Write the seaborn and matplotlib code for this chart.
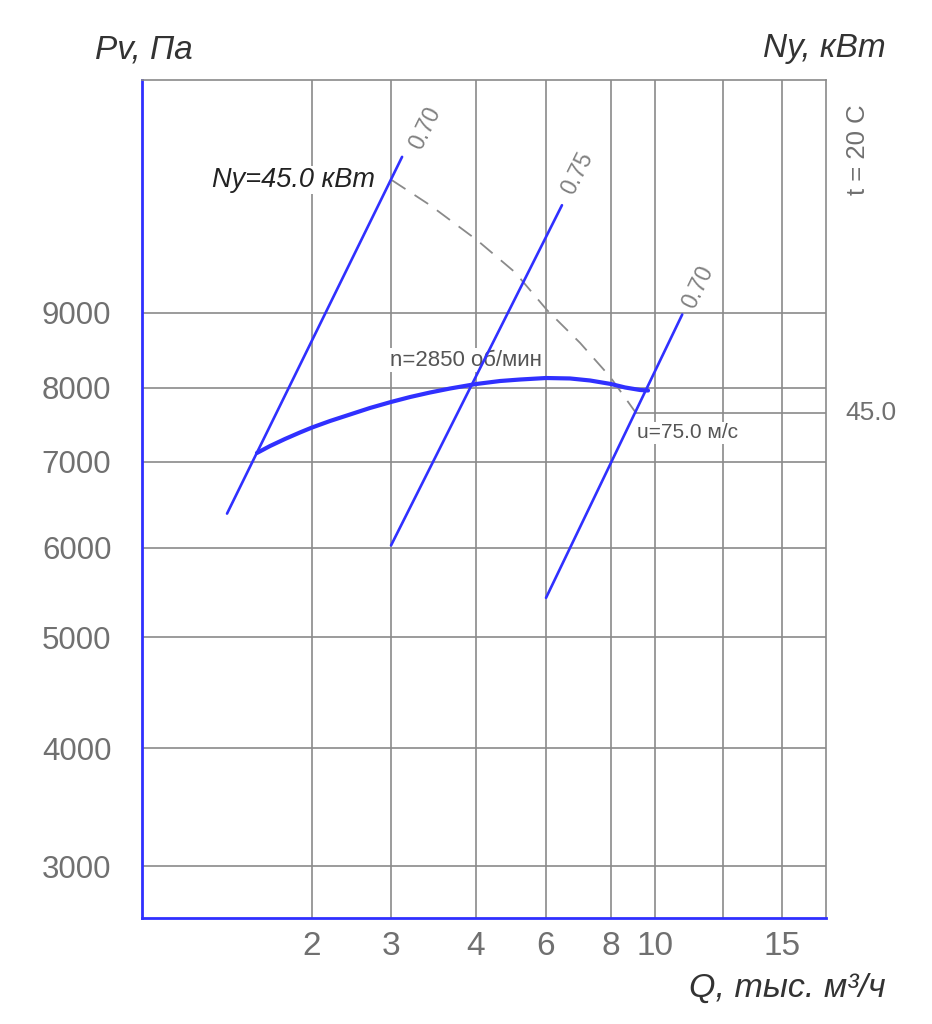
import numpy as np
import pandas as pd
import matplotlib
matplotlib.use("Agg")
import matplotlib.pyplot as plt
import matplotlib.transforms as mtransforms
import seaborn as sns

# ---------------- data ----------------
# printed, non-uniform scales of the chart (value -> relative scale position)
q_knots = [1.0, 2, 3, 4, 6, 8, 10, 12.5, 15, 20]
q_scale = [0, 170, 249, 334, 404, 469, 513, 581, 640, 684]
p_knots = [2700, 3000, 4000, 5000, 6000, 7000, 8000, 9000, 13000]
p_scale = [0, 52, 170, 281, 370, 456, 530, 605, 838]

q_ticks = [2, 3, 4, 6, 8, 10, 12.5, 15]
q_tick_labels = ["2", "3", "4", "6", "8", "10", "", "15"]
p_ticks = [3000, 4000, 5000, 6000, 7000, 8000, 9000]
p_tick_labels = ["3000", "4000", "5000", "6000", "7000", "8000", "9000"]

# fan curve n=2850 rpm
curve_q = [1.676, 1.753, 1.841, 1.929, 2.0, 2.228, 2.481, 2.734, 3.0, 3.224, 3.459,
           3.694, 4.0, 4.686, 5.257, 6.0, 6.738, 7.354, 8.0, 8.636, 9.318, 9.682]
curve_p = [7122, 7216, 7311, 7399, 7466, 7554, 7642, 7730, 7811, 7878, 7939,
           7993, 8053, 8093, 8113, 8133, 8127, 8100, 8053, 8007, 7973, 7966]

# efficiency lines
eff_labels = ["0.70", "0.75", "0.70"]
eff_q_start = [1.50, 3.00, 6.00]
eff_p_start = [6400, 6030, 5440]
eff_q_end = [3.13, 6.49, 11.0]
eff_p_end = [11680, 10850, 8980]

# power line Ny = 45.0 kW (dashed)
power_q = [3.01, 3.46, 4.03, 5.11, 6.03, 7.05, 7.97, 9.14]
power_p = [11280, 10850, 10250, 9700, 9050, 8600, 8150, 7660]
power_value = 45.0

# ---------------- style ----------------
sns.set_theme(style="white")
plt.rcParams["font.family"] = ["Liberation Sans", "DejaVu Sans"]

BLUE = "#3030ff"
GRID = "#8a8a8a"
TXT = "#707070"

fig = plt.figure(figsize=(9.32, 10.24), dpi=100)
ax = fig.add_axes([0.1524, 0.1035, 0.7339, 0.8184])

ax.set_xscale("function", functions=(lambda v: np.interp(v, q_knots, q_scale),
                                     lambda s: np.interp(s, q_scale, q_knots)))
ax.set_yscale("function", functions=(lambda v: np.interp(v, p_knots, p_scale),
                                     lambda s: np.interp(s, p_scale, p_knots)))
ax.set_xlim(q_knots[0], q_knots[-1])
ax.set_ylim(p_knots[0], p_knots[-1])

ax.set_xticks(q_ticks)
ax.set_xticklabels(q_tick_labels)
ax.set_yticks(p_ticks)
ax.set_yticklabels(p_tick_labels)
ax.minorticks_off()
ax.grid(True, color=GRID, linewidth=1.2, zorder=0)
ax.set_axisbelow(True)
ax.tick_params(axis="x", length=0, pad=9, labelsize=24, labelcolor=TXT)
ax.tick_params(axis="y", length=0, pad=22, labelsize=22.5, labelcolor=TXT)

for s in ["left", "bottom"]:
    ax.spines[s].set_color(BLUE)
    ax.spines[s].set_linewidth(2.0)
for s in ["top", "right"]:
    ax.spines[s].set_color(GRID)
    ax.spines[s].set_linewidth(1.2)

# efficiency lines
for i in range(len(eff_labels)):
    df = pd.DataFrame({"Q": [eff_q_start[i], eff_q_end[i]], "P": [eff_p_start[i], eff_p_end[i]]})
    sns.lineplot(data=df, x="Q", y="P", ax=ax, color=BLUE, linewidth=1.9,
                 sort=False, estimator=None, zorder=4)

# fan curve
df_curve = pd.DataFrame({"Q": curve_q, "P": curve_p})
sns.lineplot(data=df_curve, x="Q", y="P", ax=ax, color=BLUE, linewidth=3.0,
             sort=False, estimator=None, zorder=5)
ax.lines[-1].set_solid_joinstyle("round")
ax.lines[-1].set_solid_capstyle("round")

# power line (dashed)
df_pow = pd.DataFrame({"Q": power_q, "P": power_p})
sns.lineplot(data=df_pow, x="Q", y="P", ax=ax, color="#8a8a8a", linewidth=1.3,
             sort=False, estimator=None, zorder=3)
ax.lines[-1].set_dashes([9, 6])

# horizontal marker for Ny = 45.0 to the right scale
ax.plot([power_q[-1], q_knots[-1]], [power_p[-1], power_p[-1]], color=GRID,
        linewidth=1.2, zorder=2)

ax.set_xlabel("")
ax.set_ylabel("")

# labels of efficiency lines, rotated along the lines
fig.canvas.draw()
label_pos = [(3.40, 12180), (6.95, 11400), (11.58, 9450)]
for i, lab in enumerate(eff_labels):
    p0 = ax.transData.transform((eff_q_start[i], eff_p_start[i]))
    p1 = ax.transData.transform((eff_q_end[i], eff_p_end[i]))
    ang = np.degrees(np.arctan2(p1[1] - p0[1], p1[0] - p0[0]))
    ax.text(label_pos[i][0], label_pos[i][1], lab, rotation=ang, ha="center", va="center",
            fontsize=16.5, color="#808080", rotation_mode="anchor", zorder=6)

# annotations
ax.text(2.80, 11283, "Ny=45.0 кВт", ha="right", va="center", fontsize=19.5,
        style="italic", color="#222222", zorder=6,
        bbox=dict(facecolor="white", edgecolor="none", pad=1))
ax.text(2.99, 8370, "n=2850 об/мин", ha="left", va="center", fontsize=16,
        color="#555555", zorder=3,
        bbox=dict(facecolor="white", edgecolor="none", pad=1))
ax.text(9.18, 7392, "u=75.0 м/с", ha="left", va="center", fontsize=15,
        color="#555555", zorder=3,
        bbox=dict(facecolor="white", edgecolor="none", pad=1))

trans = mtransforms.blended_transform_factory(ax.transAxes, ax.transData)
ax.text(1.028, power_p[-1], f"{power_value:.1f}", transform=trans, ha="left", va="center",
        fontsize=19, color=TXT, clip_on=False)
ax.text(1.047, 0.9165, "t = 20 C", transform=ax.transAxes, rotation=90, ha="center",
        va="center", fontsize=18.5, color=TXT, clip_on=False)

fig.text(0.102, 0.951, "Pv, Па", ha="left", va="center", fontsize=24, style="italic",
         color="#333333")
fig.text(0.950, 0.953, "Ny, кВт", ha="right", va="center", fontsize=24, style="italic",
         color="#333333")
fig.text(0.950, 0.035, "Q, тыс. м³/ч", ha="right", va="center", fontsize=24.5,
         style="italic", color="#333333")

fig.savefig("out.png", dpi=100, facecolor="white")
